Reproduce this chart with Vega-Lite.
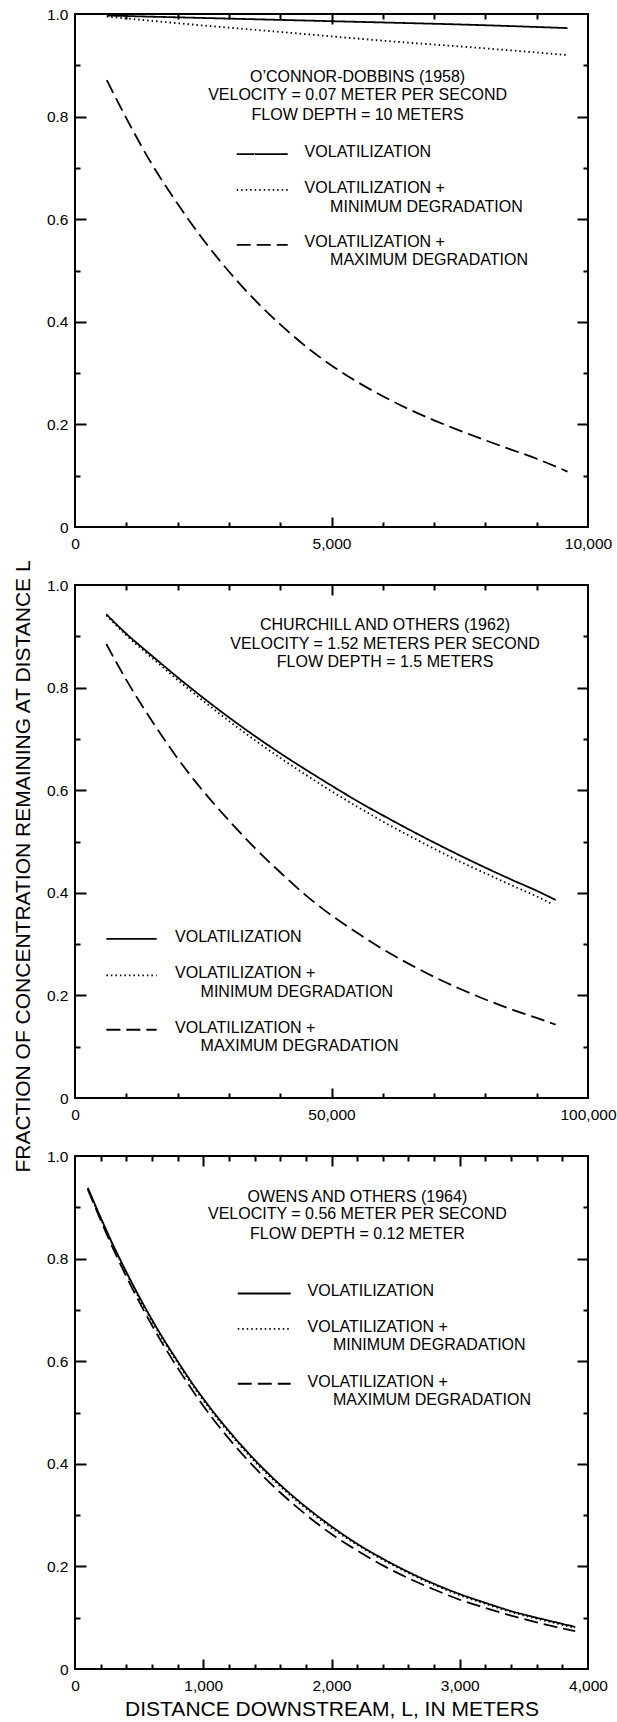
{
  "$schema": "https://vega.github.io/schema/vega-lite/v6.json",
  "padding": {"left": 10, "top": 6, "right": 0, "bottom": 0},
  "spacing": 58,
  "bounds": "flush",
  "config": {
    "view": {"stroke": "black", "strokeWidth": 2},
    "axis": {"grid": false, "domain": false, "tickColor": "black", "tickWidth": 2, "labelColor": "black", "labelFont": "Liberation Sans", "labelFontSize": 15.5, "titleFont": "Liberation Sans", "titleFontSize": 21, "titleFontWeight": "normal", "titleColor": "black", "labelFlush": false, "labelOverlap": false},
    "text": {"font": "Liberation Sans", "fontSize": 16, "color": "black"}
  },
  "datasets": {
    "c1": [
      {"s":"vol","L":620,"f":0.997},{"s":"vol","L":2000,"f":0.9935},{"s":"vol","L":4000,"f":0.9885},{"s":"vol","L":5000,"f":0.986},{"s":"vol","L":6000,"f":0.9835},{"s":"vol","L":7700,"f":0.979},{"s":"vol","L":9600,"f":0.9725},
      {"s":"min","L":620,"f":0.995},{"s":"min","L":2000,"f":0.982},{"s":"min","L":4000,"f":0.965},{"s":"min","L":6000,"f":0.948},{"s":"min","L":8000,"f":0.933},{"s":"min","L":9600,"f":0.920},
      {"s":"max","L":620,"f":0.871},{"s":"max","L":1000,"f":0.797},{"s":"max","L":1500,"f":0.707},{"s":"max","L":2000,"f":0.63},{"s":"max","L":2500,"f":0.56},{"s":"max","L":3000,"f":0.498},{"s":"max","L":3500,"f":0.443},{"s":"max","L":4000,"f":0.395},{"s":"max","L":4500,"f":0.352},{"s":"max","L":5000,"f":0.315},{"s":"max","L":5500,"f":0.283},{"s":"max","L":6000,"f":0.255},{"s":"max","L":6500,"f":0.23},{"s":"max","L":7000,"f":0.208},{"s":"max","L":7500,"f":0.188},{"s":"max","L":8000,"f":0.169},{"s":"max","L":8500,"f":0.151},{"s":"max","L":9000,"f":0.133},{"s":"max","L":9600,"f":0.108}
    ],
    "c2": [
      {"s":"vol","L":6100,"f":0.943},{"s":"vol","L":10000,"f":0.905},{"s":"vol","L":15000,"f":0.862},{"s":"vol","L":20000,"f":0.82},{"s":"vol","L":25000,"f":0.78},{"s":"vol","L":30000,"f":0.742},{"s":"vol","L":35000,"f":0.706},{"s":"vol","L":40000,"f":0.672},{"s":"vol","L":45000,"f":0.64},{"s":"vol","L":50000,"f":0.609},{"s":"vol","L":55000,"f":0.579},{"s":"vol","L":60000,"f":0.551},{"s":"vol","L":65000,"f":0.524},{"s":"vol","L":70000,"f":0.498},{"s":"vol","L":75000,"f":0.473},{"s":"vol","L":80000,"f":0.449},{"s":"vol","L":85000,"f":0.426},{"s":"vol","L":90000,"f":0.404},{"s":"vol","L":93700,"f":0.386},
      {"s":"min","L":6100,"f":0.941},{"s":"min","L":10000,"f":0.902},{"s":"min","L":15000,"f":0.858},{"s":"min","L":20000,"f":0.815},{"s":"min","L":25000,"f":0.774},{"s":"min","L":30000,"f":0.735},{"s":"min","L":35000,"f":0.698},{"s":"min","L":40000,"f":0.663},{"s":"min","L":45000,"f":0.63},{"s":"min","L":50000,"f":0.598},{"s":"min","L":55000,"f":0.568},{"s":"min","L":60000,"f":0.539},{"s":"min","L":65000,"f":0.512},{"s":"min","L":70000,"f":0.486},{"s":"min","L":75000,"f":0.461},{"s":"min","L":80000,"f":0.438},{"s":"min","L":85000,"f":0.415},{"s":"min","L":90000,"f":0.393},{"s":"min","L":93000,"f":0.378},
      {"s":"max","L":6100,"f":0.885},{"s":"max","L":10000,"f":0.815},{"s":"max","L":15000,"f":0.735},{"s":"max","L":20000,"f":0.662},{"s":"max","L":25000,"f":0.598},{"s":"max","L":30000,"f":0.541},{"s":"max","L":35000,"f":0.488},{"s":"max","L":40000,"f":0.44},{"s":"max","L":45000,"f":0.395},{"s":"max","L":50000,"f":0.356},{"s":"max","L":55000,"f":0.322},{"s":"max","L":60000,"f":0.29},{"s":"max","L":65000,"f":0.262},{"s":"max","L":70000,"f":0.236},{"s":"max","L":75000,"f":0.213},{"s":"max","L":80000,"f":0.192},{"s":"max","L":85000,"f":0.173},{"s":"max","L":90000,"f":0.156},{"s":"max","L":93700,"f":0.143}
    ],
    "c3": [
      {"s":"vol","L":100,"f":0.938},{"s":"vol","L":200,"f":0.88},{"s":"vol","L":300,"f":0.825},{"s":"vol","L":400,"f":0.774},{"s":"vol","L":500,"f":0.726},{"s":"vol","L":600,"f":0.681},{"s":"vol","L":700,"f":0.639},{"s":"vol","L":800,"f":0.6},{"s":"vol","L":900,"f":0.562},{"s":"vol","L":1000,"f":0.527},{"s":"vol","L":1200,"f":0.464},{"s":"vol","L":1400,"f":0.408},{"s":"vol","L":1600,"f":0.359},{"s":"vol","L":1800,"f":0.316},{"s":"vol","L":2000,"f":0.278},{"s":"vol","L":2200,"f":0.244},{"s":"vol","L":2400,"f":0.215},{"s":"vol","L":2600,"f":0.189},{"s":"vol","L":2800,"f":0.166},{"s":"vol","L":3000,"f":0.146},{"s":"vol","L":3200,"f":0.129},{"s":"vol","L":3400,"f":0.113},{"s":"vol","L":3600,"f":0.1},{"s":"vol","L":3800,"f":0.088},{"s":"vol","L":3900,"f":0.082},
      {"s":"min","L":100,"f":0.937},{"s":"min","L":200,"f":0.878},{"s":"min","L":300,"f":0.823},{"s":"min","L":400,"f":0.772},{"s":"min","L":500,"f":0.723},{"s":"min","L":600,"f":0.678},{"s":"min","L":700,"f":0.636},{"s":"min","L":800,"f":0.597},{"s":"min","L":900,"f":0.559},{"s":"min","L":1000,"f":0.524},{"s":"min","L":1200,"f":0.461},{"s":"min","L":1400,"f":0.405},{"s":"min","L":1600,"f":0.356},{"s":"min","L":1800,"f":0.313},{"s":"min","L":2000,"f":0.275},{"s":"min","L":2200,"f":0.242},{"s":"min","L":2400,"f":0.213},{"s":"min","L":2600,"f":0.187},{"s":"min","L":2800,"f":0.164},{"s":"min","L":3000,"f":0.144},{"s":"min","L":3200,"f":0.127},{"s":"min","L":3400,"f":0.111},{"s":"min","L":3600,"f":0.098},{"s":"min","L":3800,"f":0.086},{"s":"min","L":3900,"f":0.08},
      {"s":"max","L":100,"f":0.935},{"s":"max","L":200,"f":0.875},{"s":"max","L":300,"f":0.818},{"s":"max","L":400,"f":0.765},{"s":"max","L":500,"f":0.716},{"s":"max","L":600,"f":0.67},{"s":"max","L":700,"f":0.627},{"s":"max","L":800,"f":0.587},{"s":"max","L":900,"f":0.549},{"s":"max","L":1000,"f":0.513},{"s":"max","L":1200,"f":0.449},{"s":"max","L":1400,"f":0.393},{"s":"max","L":1600,"f":0.344},{"s":"max","L":1800,"f":0.301},{"s":"max","L":2000,"f":0.263},{"s":"max","L":2200,"f":0.231},{"s":"max","L":2400,"f":0.202},{"s":"max","L":2600,"f":0.177},{"s":"max","L":2800,"f":0.155},{"s":"max","L":3000,"f":0.135},{"s":"max","L":3200,"f":0.119},{"s":"max","L":3400,"f":0.104},{"s":"max","L":3600,"f":0.091},{"s":"max","L":3800,"f":0.079},{"s":"max","L":3900,"f":0.074}
    ],
    "a1": [
      {"t":"O’CONNOR-DOBBINS (1958)","L":5509,"f":0.878},
      {"t":"VELOCITY = 0.07 METER PER SECOND","L":5509,"f":0.842},
      {"t":"FLOW DEPTH = 10 METERS","L":5509,"f":0.804}
    ],
    "g1": [
      {"t":"VOLATILIZATION","L":4476,"f":0.731},
      {"t":"VOLATILIZATION +","L":4476,"f":0.6615},
      {"t":"MINIMUM DEGRADATION","L":4973,"f":0.6246},
      {"t":"VOLATILIZATION +","L":4476,"f":0.555},
      {"t":"MAXIMUM DEGRADATION","L":4973,"f":0.520}
    ],
    "s1": [
      {"s":"vol","L":3152,"f":0.727},{"s":"vol","L":4147,"f":0.727},
      {"s":"min","L":3152,"f":0.657},{"s":"min","L":4147,"f":0.657},
      {"s":"max","L":3152,"f":0.550},{"s":"max","L":4147,"f":0.550}
    ],
    "a2": [
      {"t":"CHURCHILL AND OTHERS (1962)","L":60440,"f":0.922},
      {"t":"VELOCITY = 1.52 METERS PER SECOND","L":60440,"f":0.885},
      {"t":"FLOW DEPTH = 1.5 METERS","L":60440,"f":0.849}
    ],
    "g2": [
      {"t":"VOLATILIZATION","L":19510,"f":0.313},
      {"t":"VOLATILIZATION +","L":19510,"f":0.243},
      {"t":"MINIMUM DEGRADATION","L":24480,"f":0.207},
      {"t":"VOLATILIZATION +","L":19510,"f":0.136},
      {"t":"MAXIMUM DEGRADATION","L":24480,"f":0.102}
    ],
    "s2": [
      {"s":"vol","L":6120,"f":0.310},{"s":"vol","L":15914,"f":0.310},
      {"s":"min","L":6120,"f":0.239},{"s":"min","L":15914,"f":0.239},
      {"s":"max","L":6120,"f":0.133},{"s":"max","L":15914,"f":0.133}
    ],
    "a3": [
      {"t":"OWENS AND OTHERS (1964)","L":2202,"f":0.920},
      {"t":"VELOCITY = 0.56 METER PER SECOND","L":2202,"f":0.886},
      {"t":"FLOW DEPTH = 0.12 METER","L":2202,"f":0.848}
    ],
    "g3": [
      {"t":"VOLATILIZATION","L":1813,"f":0.737},
      {"t":"VOLATILIZATION +","L":1813,"f":0.667},
      {"t":"MINIMUM DEGRADATION","L":2012,"f":0.631},
      {"t":"VOLATILIZATION +","L":1813,"f":0.560},
      {"t":"MAXIMUM DEGRADATION","L":2012,"f":0.525}
    ],
    "s3": [
      {"s":"vol","L":1269,"f":0.732},{"s":"vol","L":1682,"f":0.732},
      {"s":"min","L":1269,"f":0.663},{"s":"min","L":1682,"f":0.663},
      {"s":"max","L":1269,"f":0.556},{"s":"max","L":1682,"f":0.556}
    ]
  },
  "vconcat": [
    {
      "width": 513, "height": 513,
      "resolve": {"axis": {"x": "independent", "y": "independent"}},
      "layer": [
        {
          "data": {"name": "c1"},
          "mark": {"type": "line", "color": "black", "strokeWidth": 1.8, "interpolate": "monotone"},
          "encoding": {
            "x": {"field": "L", "type": "quantitative", "scale": {"domain": [0, 10000], "nice": false}, "axis": {"orient": "bottom", "values": [0, 5000, 10000], "format": ",d", "ticks": false, "labelPadding": 9, "title": null}},
            "y": {"field": "f", "type": "quantitative", "scale": {"domain": [0, 1], "nice": false}, "axis": {"orient": "left", "values": [0, 0.2, 0.4, 0.6, 0.8, 1], "labelExpr": "datum.value == 0 ? '0' : format(datum.value, '.1f')", "ticks": false, "labelPadding": 7, "title": null}},
            "strokeDash": {"field": "s", "type": "nominal", "scale": {"domain": ["vol", "min", "max"], "range": [[1, 0], [1.5, 3], [14, 6]]}, "legend": null}
          }
        },
        {
          "data": {"name": "c1"},
          "mark": {"type": "line", "opacity": 0},
          "encoding": {
            "x": {"field": "L", "type": "quantitative", "axis": {"orient": "bottom", "values": [5000], "labels": false, "domain": true, "domainOpacity": 0, "ticks": true, "tickColor": "black", "tickWidth": 2, "tickOpacity": 1, "tickSize": 10, "offset": -10, "title": null}},
            "y": {"field": "f", "type": "quantitative", "axis": {"orient": "left", "values": [0.2, 0.4, 0.6, 0.8], "labels": false, "domain": true, "domainOpacity": 0, "ticks": true, "tickColor": "black", "tickWidth": 2, "tickOpacity": 1, "tickSize": 11, "offset": -11, "title": null}}
          }
        },
        {
          "data": {"name": "c1"},
          "mark": {"type": "line", "opacity": 0},
          "encoding": {
            "x": {"field": "L", "type": "quantitative", "axis": {"orient": "bottom", "values": [1000, 2000, 3000, 4000, 6000, 7000, 8000, 9000], "labels": false, "domain": true, "domainOpacity": 0, "ticks": true, "tickColor": "black", "tickWidth": 2, "tickOpacity": 1, "tickSize": 5, "offset": -5, "title": null}},
            "y": {"field": "f", "type": "quantitative", "axis": {"orient": "left", "values": [0.1, 0.3, 0.5, 0.7, 0.9], "labels": false, "domain": true, "domainOpacity": 0, "ticks": true, "tickColor": "black", "tickWidth": 2, "tickOpacity": 1, "tickSize": 5, "offset": -5, "title": null}}
          }
        },
        {
          "data": {"name": "c1"},
          "mark": {"type": "line", "opacity": 0},
          "encoding": {
            "x": {"field": "L", "type": "quantitative", "axis": {"orient": "top", "values": [5000], "labels": false, "domain": true, "domainOpacity": 0, "ticks": true, "tickColor": "black", "tickWidth": 2, "tickOpacity": 1, "tickSize": 10, "offset": -10, "title": null}},
            "y": {"field": "f", "type": "quantitative", "axis": {"orient": "right", "values": [0.2, 0.4, 0.6, 0.8], "labels": false, "domain": true, "domainOpacity": 0, "ticks": true, "tickColor": "black", "tickWidth": 2, "tickOpacity": 1, "tickSize": 11, "offset": -11, "title": null}}
          }
        },
        {
          "data": {"name": "c1"},
          "mark": {"type": "line", "opacity": 0},
          "encoding": {
            "x": {"field": "L", "type": "quantitative", "axis": {"orient": "top", "values": [1000, 2000, 3000, 4000, 6000, 7000, 8000, 9000], "labels": false, "domain": true, "domainOpacity": 0, "ticks": true, "tickColor": "black", "tickWidth": 2, "tickOpacity": 1, "tickSize": 5, "offset": -5, "title": null}},
            "y": {"field": "f", "type": "quantitative", "axis": {"orient": "right", "values": [0.1, 0.3, 0.5, 0.7, 0.9], "labels": false, "domain": true, "domainOpacity": 0, "ticks": true, "tickColor": "black", "tickWidth": 2, "tickOpacity": 1, "tickSize": 5, "offset": -5, "title": null}}
          }
        },
        {
          "data": {"name": "s1"},
          "mark": {"type": "line", "color": "black", "strokeWidth": 1.8},
          "encoding": {
            "x": {"field": "L", "type": "quantitative", "axis": null},
            "y": {"field": "f", "type": "quantitative", "axis": null},
            "strokeDash": {"field": "s", "type": "nominal", "legend": null}
          }
        },
        {
          "data": {"name": "a1"},
          "mark": {"type": "text", "align": "center", "baseline": "middle"},
          "encoding": {
            "x": {"field": "L", "type": "quantitative", "axis": null},
            "y": {"field": "f", "type": "quantitative", "axis": null},
            "text": {"field": "t"}
          }
        },
        {
          "data": {"name": "g1"},
          "mark": {"type": "text", "align": "left", "baseline": "middle"},
          "encoding": {
            "x": {"field": "L", "type": "quantitative", "axis": null},
            "y": {"field": "f", "type": "quantitative", "axis": null},
            "text": {"field": "t"}
          }
        }
      ]
    },
    {
      "width": 513, "height": 513,
      "resolve": {"axis": {"x": "independent", "y": "independent"}},
      "layer": [
        {
          "data": {"name": "c2"},
          "mark": {"type": "line", "color": "black", "strokeWidth": 1.8, "interpolate": "monotone"},
          "encoding": {
            "x": {"field": "L", "type": "quantitative", "scale": {"domain": [0, 100000], "nice": false}, "axis": {"orient": "bottom", "values": [0, 50000, 100000], "format": ",d", "ticks": false, "labelPadding": 9, "title": null}},
            "y": {"field": "f", "type": "quantitative", "scale": {"domain": [0, 1], "nice": false}, "axis": {"orient": "left", "values": [0, 0.2, 0.4, 0.6, 0.8, 1], "labelExpr": "datum.value == 0 ? '0' : format(datum.value, '.1f')", "ticks": false, "labelPadding": 7, "title": "FRACTION OF CONCENTRATION REMAINING AT DISTANCE L", "titleAngle": 270, "titleX": -46, "titleY": 281, "titleAlign": "center", "titleBaseline": "alphabetic"}},
            "strokeDash": {"field": "s", "type": "nominal", "scale": {"domain": ["vol", "min", "max"], "range": [[1, 0], [1.5, 3], [14, 6]]}, "legend": null}
          }
        },
        {
          "data": {"name": "c2"},
          "mark": {"type": "line", "opacity": 0},
          "encoding": {
            "x": {"field": "L", "type": "quantitative", "axis": {"orient": "bottom", "values": [50000], "labels": false, "domain": true, "domainOpacity": 0, "ticks": true, "tickColor": "black", "tickWidth": 2, "tickOpacity": 1, "tickSize": 10, "offset": -10, "title": null}},
            "y": {"field": "f", "type": "quantitative", "axis": {"orient": "left", "values": [0.2, 0.4, 0.6, 0.8], "labels": false, "domain": true, "domainOpacity": 0, "ticks": true, "tickColor": "black", "tickWidth": 2, "tickOpacity": 1, "tickSize": 11, "offset": -11, "title": null}}
          }
        },
        {
          "data": {"name": "c2"},
          "mark": {"type": "line", "opacity": 0},
          "encoding": {
            "x": {"field": "L", "type": "quantitative", "axis": {"orient": "bottom", "values": [10000, 20000, 30000, 40000, 60000, 70000, 80000, 90000], "labels": false, "domain": true, "domainOpacity": 0, "ticks": true, "tickColor": "black", "tickWidth": 2, "tickOpacity": 1, "tickSize": 5, "offset": -5, "title": null}},
            "y": {"field": "f", "type": "quantitative", "axis": {"orient": "left", "values": [0.1, 0.3, 0.5, 0.7, 0.9], "labels": false, "domain": true, "domainOpacity": 0, "ticks": true, "tickColor": "black", "tickWidth": 2, "tickOpacity": 1, "tickSize": 5, "offset": -5, "title": null}}
          }
        },
        {
          "data": {"name": "c2"},
          "mark": {"type": "line", "opacity": 0},
          "encoding": {
            "x": {"field": "L", "type": "quantitative", "axis": {"orient": "top", "values": [50000], "labels": false, "domain": true, "domainOpacity": 0, "ticks": true, "tickColor": "black", "tickWidth": 2, "tickOpacity": 1, "tickSize": 10, "offset": -10, "title": null}},
            "y": {"field": "f", "type": "quantitative", "axis": {"orient": "right", "values": [0.2, 0.4, 0.6, 0.8], "labels": false, "domain": true, "domainOpacity": 0, "ticks": true, "tickColor": "black", "tickWidth": 2, "tickOpacity": 1, "tickSize": 11, "offset": -11, "title": null}}
          }
        },
        {
          "data": {"name": "c2"},
          "mark": {"type": "line", "opacity": 0},
          "encoding": {
            "x": {"field": "L", "type": "quantitative", "axis": {"orient": "top", "values": [10000, 20000, 30000, 40000, 60000, 70000, 80000, 90000], "labels": false, "domain": true, "domainOpacity": 0, "ticks": true, "tickColor": "black", "tickWidth": 2, "tickOpacity": 1, "tickSize": 5, "offset": -5, "title": null}},
            "y": {"field": "f", "type": "quantitative", "axis": {"orient": "right", "values": [0.1, 0.3, 0.5, 0.7, 0.9], "labels": false, "domain": true, "domainOpacity": 0, "ticks": true, "tickColor": "black", "tickWidth": 2, "tickOpacity": 1, "tickSize": 5, "offset": -5, "title": null}}
          }
        },
        {
          "data": {"name": "s2"},
          "mark": {"type": "line", "color": "black", "strokeWidth": 1.8},
          "encoding": {
            "x": {"field": "L", "type": "quantitative", "axis": null},
            "y": {"field": "f", "type": "quantitative", "axis": null},
            "strokeDash": {"field": "s", "type": "nominal", "legend": null}
          }
        },
        {
          "data": {"name": "a2"},
          "mark": {"type": "text", "align": "center", "baseline": "middle"},
          "encoding": {
            "x": {"field": "L", "type": "quantitative", "axis": null},
            "y": {"field": "f", "type": "quantitative", "axis": null},
            "text": {"field": "t"}
          }
        },
        {
          "data": {"name": "g2"},
          "mark": {"type": "text", "align": "left", "baseline": "middle"},
          "encoding": {
            "x": {"field": "L", "type": "quantitative", "axis": null},
            "y": {"field": "f", "type": "quantitative", "axis": null},
            "text": {"field": "t"}
          }
        }
      ]
    },
    {
      "width": 513, "height": 513,
      "resolve": {"axis": {"x": "independent", "y": "independent"}},
      "layer": [
        {
          "data": {"name": "c3"},
          "mark": {"type": "line", "color": "black", "strokeWidth": 1.8, "interpolate": "monotone"},
          "encoding": {
            "x": {"field": "L", "type": "quantitative", "scale": {"domain": [0, 4000], "nice": false}, "axis": {"orient": "bottom", "values": [0, 1000, 2000, 3000, 4000], "format": ",d", "ticks": false, "labelPadding": 9, "title": "DISTANCE DOWNSTREAM, L, IN METERS", "titleY": 46, "titleBaseline": "alphabetic"}},
            "y": {"field": "f", "type": "quantitative", "scale": {"domain": [0, 1], "nice": false}, "axis": {"orient": "left", "values": [0, 0.2, 0.4, 0.6, 0.8, 1], "labelExpr": "datum.value == 0 ? '0' : format(datum.value, '.1f')", "ticks": false, "labelPadding": 7, "title": null}},
            "strokeDash": {"field": "s", "type": "nominal", "scale": {"domain": ["vol", "min", "max"], "range": [[1, 0], [1.5, 3], [14, 6]]}, "legend": null}
          }
        },
        {
          "data": {"name": "c3"},
          "mark": {"type": "line", "opacity": 0},
          "encoding": {
            "x": {"field": "L", "type": "quantitative", "axis": {"orient": "bottom", "values": [1000, 2000, 3000], "labels": false, "domain": true, "domainOpacity": 0, "ticks": true, "tickColor": "black", "tickWidth": 2, "tickOpacity": 1, "tickSize": 10, "offset": -10, "title": null}},
            "y": {"field": "f", "type": "quantitative", "axis": {"orient": "left", "values": [0.2, 0.4, 0.6, 0.8], "labels": false, "domain": true, "domainOpacity": 0, "ticks": true, "tickColor": "black", "tickWidth": 2, "tickOpacity": 1, "tickSize": 11, "offset": -11, "title": null}}
          }
        },
        {
          "data": {"name": "c3"},
          "mark": {"type": "line", "opacity": 0},
          "encoding": {
            "x": {"field": "L", "type": "quantitative", "axis": {"orient": "bottom", "values": [200, 400, 600, 800, 1200, 1400, 1600, 1800, 2200, 2400, 2600, 2800, 3200, 3400, 3600, 3800], "labels": false, "domain": true, "domainOpacity": 0, "ticks": true, "tickColor": "black", "tickWidth": 2, "tickOpacity": 1, "tickSize": 5, "offset": -5, "title": null}},
            "y": {"field": "f", "type": "quantitative", "axis": {"orient": "left", "values": [0.1, 0.3, 0.5, 0.7, 0.9], "labels": false, "domain": true, "domainOpacity": 0, "ticks": true, "tickColor": "black", "tickWidth": 2, "tickOpacity": 1, "tickSize": 5, "offset": -5, "title": null}}
          }
        },
        {
          "data": {"name": "c3"},
          "mark": {"type": "line", "opacity": 0},
          "encoding": {
            "x": {"field": "L", "type": "quantitative", "axis": {"orient": "top", "values": [1000, 2000, 3000], "labels": false, "domain": true, "domainOpacity": 0, "ticks": true, "tickColor": "black", "tickWidth": 2, "tickOpacity": 1, "tickSize": 10, "offset": -10, "title": null}},
            "y": {"field": "f", "type": "quantitative", "axis": {"orient": "right", "values": [0.2, 0.4, 0.6, 0.8], "labels": false, "domain": true, "domainOpacity": 0, "ticks": true, "tickColor": "black", "tickWidth": 2, "tickOpacity": 1, "tickSize": 11, "offset": -11, "title": null}}
          }
        },
        {
          "data": {"name": "c3"},
          "mark": {"type": "line", "opacity": 0},
          "encoding": {
            "x": {"field": "L", "type": "quantitative", "axis": {"orient": "top", "values": [200, 400, 600, 800, 1200, 1400, 1600, 1800, 2200, 2400, 2600, 2800, 3200, 3400, 3600, 3800], "labels": false, "domain": true, "domainOpacity": 0, "ticks": true, "tickColor": "black", "tickWidth": 2, "tickOpacity": 1, "tickSize": 5, "offset": -5, "title": null}},
            "y": {"field": "f", "type": "quantitative", "axis": {"orient": "right", "values": [0.1, 0.3, 0.5, 0.7, 0.9], "labels": false, "domain": true, "domainOpacity": 0, "ticks": true, "tickColor": "black", "tickWidth": 2, "tickOpacity": 1, "tickSize": 5, "offset": -5, "title": null}}
          }
        },
        {
          "data": {"name": "s3"},
          "mark": {"type": "line", "color": "black", "strokeWidth": 1.8},
          "encoding": {
            "x": {"field": "L", "type": "quantitative", "axis": null},
            "y": {"field": "f", "type": "quantitative", "axis": null},
            "strokeDash": {"field": "s", "type": "nominal", "legend": null}
          }
        },
        {
          "data": {"name": "a3"},
          "mark": {"type": "text", "align": "center", "baseline": "middle"},
          "encoding": {
            "x": {"field": "L", "type": "quantitative", "axis": null},
            "y": {"field": "f", "type": "quantitative", "axis": null},
            "text": {"field": "t"}
          }
        },
        {
          "data": {"name": "g3"},
          "mark": {"type": "text", "align": "left", "baseline": "middle"},
          "encoding": {
            "x": {"field": "L", "type": "quantitative", "axis": null},
            "y": {"field": "f", "type": "quantitative", "axis": null},
            "text": {"field": "t"}
          }
        }
      ]
    }
  ]
}
